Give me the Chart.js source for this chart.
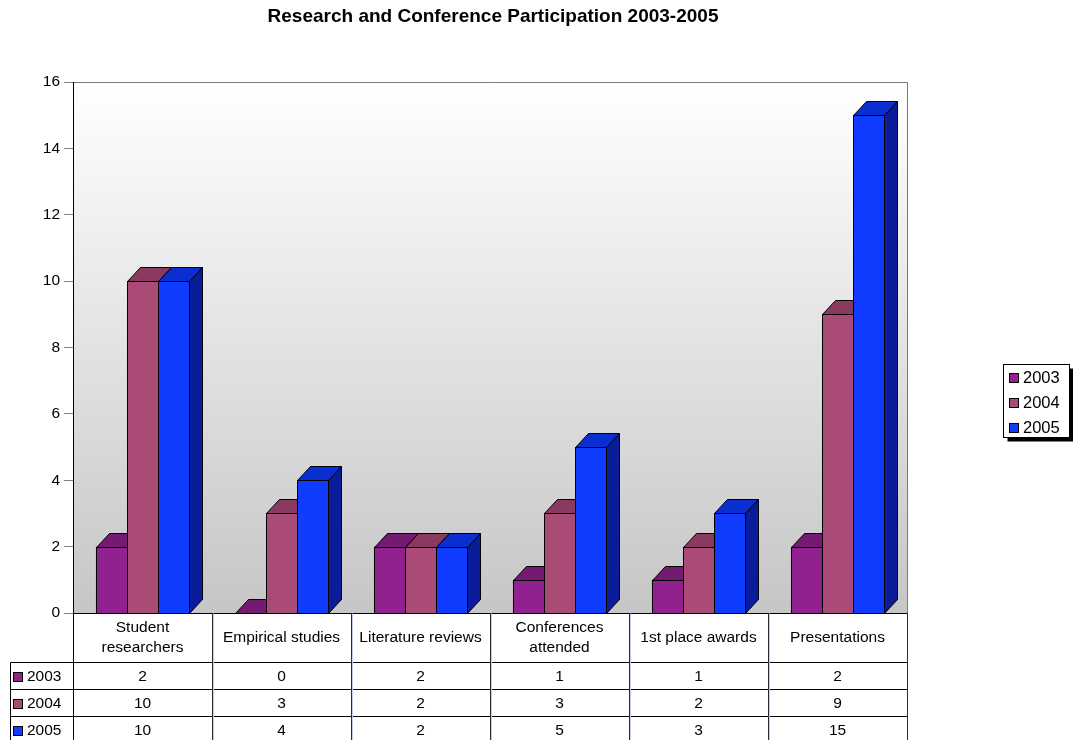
<!DOCTYPE html>
<html>
<head>
<meta charset="utf-8">
<script src="https://cdn.jsdelivr.net/npm/chart.js@4/dist/chart.umd.min.js"></script>
<style>
  html, body { margin: 0; padding: 0; background: #ffffff; }
  #wrap { width: 1073px; height: 740px; position: relative; }
</style>
</head>
<body>
<div id="wrap"><canvas id="c" width="1073" height="740"></canvas></div>
<script>
// ---- data ----
const chartTitle = "Research and Conference Participation 2003-2005";
const categories = [["Student", "researchers"], ["Empirical studies"], ["Literature reviews"], ["Conferences", "attended"], ["1st place awards"], ["Presentations"]];
const seriesNames = ["2003", "2004", "2005"];
const values2003 = [2, 0, 2, 1, 1, 2];
const values2004 = [10, 3, 2, 3, 2, 9];
const values2005 = [10, 4, 2, 5, 3, 15];
const yMin = 0, yMax = 16, yStep = 2;

// ---- styles ----
const FONT = "'Liberation Sans', Arial, sans-serif";
const frontColors = ["#922190", "#A94A77", "#0F3CFF"];
const topColors   = ["#741a72", "#8a3a61", "#0b2ed0"];
const sideColors  = ["#5c145a", "#6e2e4d", "#0a1c99"];
const DX = 13, DY = 14;

const threeD = {
  id: 'threeD',
  beforeDatasetsDraw(chart) {
    const { ctx, chartArea: a } = chart;
    const g = ctx.createLinearGradient(0, a.top, 0, a.bottom);
    g.addColorStop(0, '#ffffff');
    g.addColorStop(1, '#c6c6c6');
    ctx.save();
    ctx.fillStyle = g;
    ctx.fillRect(a.left, a.top, a.right - a.left, a.bottom - a.top);
    ctx.restore();
  },
  afterDatasetsDraw(chart) {
    const { ctx, chartArea: a } = chart;
    const n = chart.data.labels.length;
    ctx.save();
    ctx.lineWidth = 1;
    ctx.strokeStyle = '#000000';
    ctx.lineJoin = 'miter';
    for (let i = 0; i < n; i++) {
      chart.data.datasets.forEach((ds, d) => {
        const el = chart.getDatasetMeta(d).data[i];
        const w = el.width;
        const x0 = Math.round(el.x - w / 2) + 0.5;
        const x1 = Math.round(el.x + w / 2) + 0.5;
        const yT = Math.round(el.y) + 0.5;
        const yB = Math.round(el.base) + 0.5;
        // side
        ctx.beginPath();
        ctx.moveTo(x1, yT); ctx.lineTo(x1 + DX, yT - DY); ctx.lineTo(x1 + DX, yB - DY); ctx.lineTo(x1, yB); ctx.closePath();
        ctx.fillStyle = sideColors[d]; ctx.fill(); ctx.stroke();
        // top
        ctx.beginPath();
        ctx.moveTo(x0, yT); ctx.lineTo(x0 + DX, yT - DY); ctx.lineTo(x1 + DX, yT - DY); ctx.lineTo(x1, yT); ctx.closePath();
        ctx.fillStyle = topColors[d]; ctx.fill(); ctx.stroke();
        // front
        if (yB - yT > 0) {
          ctx.fillStyle = frontColors[d];
          ctx.fillRect(x0, yT, x1 - x0, yB - yT);
          ctx.strokeRect(x0, yT, x1 - x0, yB - yT);
        }
      });
    }
    // plot border (top, right) and axis lines
    ctx.strokeStyle = '#7a7a7a';
    ctx.beginPath();
    ctx.moveTo(a.left, Math.round(a.top) + 0.5); ctx.lineTo(Math.round(a.right) + 0.5, Math.round(a.top) + 0.5);
    ctx.lineTo(Math.round(a.right) + 0.5, Math.round(a.bottom) + 0.5);
    ctx.stroke();
    ctx.strokeStyle = '#000000';
    ctx.beginPath();
    ctx.moveTo(Math.round(a.left) + 0.5, a.top); ctx.lineTo(Math.round(a.left) + 0.5, a.bottom);
    ctx.stroke();
    ctx.restore();
  },
  afterDraw(chart) {
    const { ctx, chartArea: a } = chart;
    const xs = chart.scales.x;
    const n = chart.data.labels.length;
    const colW = (a.right - a.left) / n;
    ctx.save();
    // title
    ctx.fillStyle = '#000';
    ctx.font = 'bold 19px ' + FONT;
    ctx.textAlign = 'center';
    ctx.textBaseline = 'middle';
    ctx.fillText(chartTitle, (a.left + a.right) / 2 + 3, 17);

    // data table
    const top = Math.round(a.bottom) + 0.5;
    const headH = 49, rowH = 27;
    const left = 10.5, L = Math.round(a.left) + 0.5, R = Math.round(a.right) + 0.5;
    const rowsTop = top + headH;
    const bottom = rowsTop + rowH * 3;
    ctx.lineWidth = 1;
    // horizontal lines
    ctx.strokeStyle = '#000';
    ctx.beginPath();
    ctx.moveTo(L, top); ctx.lineTo(R, top);
    for (let r = 0; r <= 3; r++) {
      ctx.moveTo(left, rowsTop + r * rowH); ctx.lineTo(R, rowsTop + r * rowH);
    }
    ctx.moveTo(left, rowsTop); ctx.lineTo(left, bottom);
    ctx.moveTo(L, top); ctx.lineTo(L, bottom);
    ctx.stroke();
    // column separators
    for (let i = 1; i <= n; i++) {
      const bx = Math.round(a.left + colW * i) + 0.5;
      ctx.strokeStyle = '#2a2a3a';
      ctx.beginPath(); ctx.moveTo(bx, top); ctx.lineTo(bx, bottom); ctx.stroke();
      if (i < n) {
        ctx.strokeStyle = '#c4cbf0';
        ctx.beginPath(); ctx.moveTo(bx + 1, top); ctx.lineTo(bx + 1, bottom); ctx.stroke();
      }
    }
    // header text
    ctx.fillStyle = '#000';
    ctx.font = '15.5px ' + FONT;
    ctx.textAlign = 'center';
    ctx.textBaseline = 'middle';
    for (let i = 0; i < n; i++) {
      const cx = xs.getPixelForValue(i);
      const lines = chart.data.labels[i];
      const lh = 20;
      const cy = top + headH / 2;
      lines.forEach((t, k) => {
        ctx.fillText(t, cx, cy + (k - (lines.length - 1) / 2) * lh);
      });
    }
    // rows
    chart.data.datasets.forEach((ds, d) => {
      const cy = rowsTop + rowH * d + rowH / 2 + 0.5;
      // key
      ctx.fillStyle = frontColors[d];
      ctx.fillRect(13.5, Math.round(cy) - 4.5, 9, 9);
      ctx.strokeStyle = '#000';
      ctx.strokeRect(13.5, Math.round(cy) - 4.5, 9, 9);
      ctx.fillStyle = '#000';
      ctx.textAlign = 'left';
      ctx.fillText(ds.label, 27, cy);
      ctx.textAlign = 'center';
      ds.data.forEach((v, i) => {
        ctx.fillText(String(v), xs.getPixelForValue(i), cy);
      });
    });

    // legend box
    const lx = 1003.5, ly = 364.5, lw = 66, lhh = 73;
    ctx.fillStyle = '#000';
    ctx.fillRect(lx + 4, ly + 4, lw, lhh);
    ctx.fillStyle = '#fff';
    ctx.fillRect(lx, ly, lw, lhh);
    ctx.strokeStyle = '#000';
    ctx.strokeRect(lx, ly, lw, lhh);
    ctx.font = '16.5px ' + FONT;
    ctx.textAlign = 'left';
    chart.data.datasets.forEach((ds, d) => {
      const cy = ly + 13 + d * 25;
      ctx.fillStyle = frontColors[d];
      ctx.fillRect(1009.5, Math.round(cy) - 4.5, 9, 9);
      ctx.strokeStyle = '#000';
      ctx.strokeRect(1009.5, Math.round(cy) - 4.5, 9, 9);
      ctx.fillStyle = '#000';
      ctx.fillText(ds.label, 1023, cy + 0.5);
    });
    ctx.restore();
  }
};

const yTicks = [];
for (let v = yMin; v <= yMax; v += yStep) yTicks.push(v);

new Chart(document.getElementById('c'), {
  type: 'bar',
  data: {
    labels: categories,
    datasets: [
      { label: seriesNames[0], data: values2003, backgroundColor: frontColors[0] },
      { label: seriesNames[1], data: values2004, backgroundColor: frontColors[1] },
      { label: seriesNames[2], data: values2005, backgroundColor: frontColors[2] }
    ]
  },
  options: {
    responsive: false,
    animation: false,
    devicePixelRatio: 1,
    layout: { padding: { top: 82, bottom: 127, left: 0, right: 166 } },
    datasets: { bar: { categoryPercentage: 0.67, barPercentage: 1.0 } },
    plugins: { legend: { display: false }, title: { display: false }, tooltip: { enabled: false } },
    scales: {
      x: { display: false, offset: true },
      y: {
        min: yMin, max: yMax,
        afterFit(scale) { scale.width = 73; },
        afterBuildTicks(scale) { scale.ticks = yTicks.map(v => ({ value: v })); },
        border: { display: false },
        grid: { drawOnChartArea: false, drawTicks: true, tickLength: 9, color: '#808080' },
        ticks: { padding: 4, color: '#000', font: { family: FONT, size: 15.5 } }
      }
    }
  },
  plugins: [threeD]
});
</script>
</body>
</html>
